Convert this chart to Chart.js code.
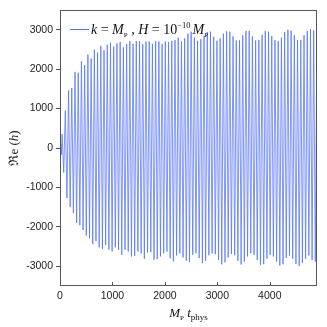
<!DOCTYPE html>
<html><head><meta charset="utf-8">
<script src="https://cdn.jsdelivr.net/npm/chart.js@4/dist/chart.umd.min.js"></script>
<style>html,body{margin:0;padding:0;background:#fff}#wrap{width:327px;height:327px;position:relative}</style>
</head><body><div id="wrap"><canvas id="c"></canvas></div>
<script>
// ---- data ----
const leadTimes = [0, 14, 27];
const leadValues = [0, 110, -170];
const cycleStart = 40;     // time of first upper peak
const cycleStep = 61.5;    // apparent oscillation spacing (time units)
const upperPeaks = [
  350, 950, 1460, 1520, 1930, 1910, 2200, 2100, 2370, 2270,
  2490, 2420, 2590, 2480, 2620, 2670, 2570, 2650, 2690, 2550,
  2640, 2710, 2640, 2710, 2710, 2630, 2700, 2700, 2640, 2710,
  2700, 2640, 2700, 2690, 2720, 2740, 2800, 2700, 2780, 2900,
  2950, 2800, 2720, 2760, 2850, 2940, 2950, 2820, 2720, 2780,
  2900, 2960, 2950, 2830, 2730, 2730, 2860, 2970, 2970, 2830,
  2730, 2740, 2870, 2970, 2950, 2840, 2740, 2710, 2800, 2940,
  3000, 2980, 2860, 2740, 2740, 2860, 2970, 3010, 2980, 2860
];
const lowerPeaks = [
  -620, -1270, -1500, -1650, -1900, -1960, -2080, -2220, -2290, -2440,
  -2360, -2520, -2560, -2460, -2580, -2625, -2520, -2580, -2710, -2580,
  -2625, -2750, -2740, -2625, -2670, -2810, -2650, -2640,
  -2835, -2820, -2750, -2670, -2625, -2795, -2878, -2726, -2670, -2776,
  -2861, -2895, -2709, -2670, -2790, -2920, -2860, -2720, -2670, -2690,
  -2840, -2950, -2900, -2780, -2690, -2720, -2860,
  -2955, -2880, -2750, -2670, -2710, -2840, -2960, -2945, -2810, -2710,
  -2750, -2880, -2980, -2950, -2790, -2725, -2810, -2945, -2990, -2920,
  -2810, -2725, -2840, -2880,
  -2800
];
const xTickValues = [0, 1000, 2000, 3000, 4000];
const yTickValues = [-3000, -2000, -1000, 0, 1000, 2000, 3000];
const xRange = [0, 4900];
const yRange = [-3500, 3500];

// ---- build the series ----
const points = [];
leadTimes.forEach((t, i) => points.push({x: t, y: leadValues[i]}));
upperPeaks.forEach((v, i) => {
  const t = cycleStart + cycleStep * i;
  points.push({x: t, y: v});
  points.push({x: t + cycleStep / 2, y: lowerPeaks[i]});
});

const LINE = '#5272ff';
const FRAME = '#555';

function drawRich(ctx, parts, x, y, align) {
  let w = 0;
  parts.forEach(p => { ctx.font = p.f; w += ctx.measureText(p.t).width; });
  let cx = align === 'center' ? x - w / 2 : x;
  ctx.textAlign = 'left';
  ctx.textBaseline = 'alphabetic';
  parts.forEach(p => {
    ctx.font = p.f;
    ctx.fillText(p.t, cx, y + (p.dy || 0));
    cx += ctx.measureText(p.t).width;
  });
  return w;
}
const SER = '"Liberation Serif","DejaVu Serif",serif';
const I14 = 'italic 14px ' + SER, R14 = '14px ' + SER;
const I13 = 'italic 13px ' + SER, R13 = '13px ' + SER, R7 = '7px ' + SER, R8 = '8.5px ' + SER, R9 = '9px ' + SER;
const fmt = v => (v < 0 ? '-' : '') + Math.abs(v);

const decor = {
  id: 'decor',
  afterDatasetsDraw(chart) {
    const {ctx, chartArea: a, scales} = chart;
    ctx.save();
    // frame
    ctx.strokeStyle = FRAME; ctx.lineWidth = 1;
    ctx.strokeRect(a.left + 0.5, a.top + 0.5, a.right - a.left - 1, a.bottom - a.top - 1);
    // inward x ticks
    xTickValues.forEach(v => {
      const px = Math.round(scales.x.getPixelForValue(v)) + 0.5;
      ctx.beginPath(); ctx.moveTo(px, a.bottom); ctx.lineTo(px, a.bottom - 4); ctx.stroke();
    });
    // legend
    ctx.strokeStyle = LINE; ctx.lineWidth = 1;
    ctx.beginPath(); ctx.moveTo(a.left + 10, a.top + 19.5); ctx.lineTo(a.left + 29, a.top + 19.5); ctx.stroke();
    ctx.fillStyle = '#111';
    drawRich(ctx, [
      {t: 'k', f: I14}, {t: ' = ', f: R14}, {t: 'M', f: I14}, {t: 'P', f: R7, dy: 3},
      {t: ' , ', f: R14}, {t: 'H', f: I14}, {t: ' = ', f: R14}, {t: '10', f: R14},
      {t: '\u221210', f: R8, dy: -6}, {t: ' ', f: R8}, {t: 'M', f: I14}, {t: 'P', f: R7, dy: 3}
    ], a.left + 31, a.top + 24, 'left');
    // x title
    drawRich(ctx, [
      {t: 'M', f: I13}, {t: 'P', f: R7, dy: 3}, {t: ' ', f: R13}, {t: 't', f: I13}, {t: 'phys', f: R9, dy: 3}
    ], (a.left + a.right) / 2, 317, 'center');
    // y title
    ctx.translate(18, (a.top + a.bottom) / 2);
    ctx.rotate(-Math.PI / 2);
    drawRich(ctx, [
      {t: '\u211Ce', f: R13}, {t: ' (', f: R13}, {t: 'h', f: I13}, {t: ')', f: R13}
    ], 0, 0, 'center');
    ctx.restore();
  }
};

new Chart(document.getElementById('c'), {
  type: 'line',
  data: { datasets: [{
    data: points, borderColor: LINE, borderWidth: 0.75, pointRadius: 0, tension: 0, fill: false
  }]},
  options: {
    responsive: true, maintainAspectRatio: false, animation: false,
    devicePixelRatio: 1,
    layout: { padding: { top: 10, right: 10, left: 0, bottom: 0 } },
    plugins: { legend: { display: false }, tooltip: { enabled: false } },
    scales: {
      x: {
        type: 'linear', min: xRange[0], max: xRange[1],
        afterFit: s => { s.height = 41; },
        afterBuildTicks: s => { s.ticks = xTickValues.map(v => ({value: v})); },
        grid: { display: false, drawTicks: false },
        border: { display: false },
        ticks: { padding: 4, color: '#222', callback: fmt, font: { family: '"Liberation Sans",Arial,sans-serif', size: 10.5 }, maxRotation: 0 }
      },
      y: {
        type: 'linear', min: yRange[0], max: yRange[1],
        afterFit: s => { s.width = 60; },
        afterBuildTicks: s => { s.ticks = yTickValues.map(v => ({value: v})); },
        grid: { display: true, drawOnChartArea: false, drawTicks: true, tickLength: 4, color: FRAME },
        border: { display: false },
        ticks: { padding: 3, color: '#222', callback: fmt, font: { family: '"Liberation Sans",Arial,sans-serif', size: 10.5 } }
      }
    }
  },
  plugins: [decor]
});
</script>
</body></html>
